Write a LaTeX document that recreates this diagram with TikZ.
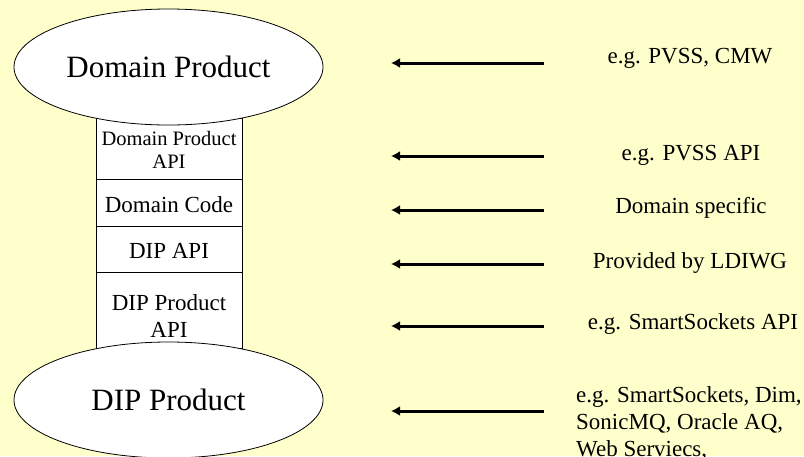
\documentclass[tikz,border=0pt]{standalone}
\usepackage{fontspec}
\setmainfont{Liberation Serif}
\usetikzlibrary{arrows.meta,shapes.geometric}
\definecolor{bgyellow}{HTML}{FFFFCC}
\tikzset{
  prod/.style={ellipse, draw=black, line width=0.8pt, fill=white, inner sep=0pt,
    minimum width=309pt, minimum height=116pt, font=\fontsize{31}{36}\selectfont},
  cell/.style={rectangle, draw=black, line width=0.8pt, fill=white, inner sep=0pt,
    minimum width=146pt},
  celltext/.style={anchor=base, align=center, inner sep=0pt, font=\fontsize{23}{27}\selectfont},
  smalltext/.style={anchor=base, align=center, inner sep=0pt, font=\fontsize{20.5}{23}\selectfont},
  note/.style={anchor=base, align=center, inner sep=0pt, font=\fontsize{23}{27}\selectfont},
  arr/.style={line width=3pt, -{Latex[length=9pt,width=10pt]}}
}
\begin{document}
\begin{tikzpicture}[x=1pt,y=-1pt]
\fill[bgyellow] (0,0) rectangle (804,456);
\useasboundingbox (0,0) rectangle (804,456);
% stack of layers
\node[cell, minimum height=61pt] (c1) at (169,148.5) {};
\node[cell, minimum height=47pt] (c2) at (169,202.5) {};
\node[cell, minimum height=46pt] (c3) at (169,249) {};
\node[cell, minimum height=76pt] (c4) at (169,310) {};
\node[smalltext] (t1) at (169,168) {Domain Product\\API};
\node[celltext] (t2) at (169,212) {Domain Code};
\node[celltext] (t3) at (169,258) {DIP API};
\node[celltext] (t4) at (169,337) {DIP Product\\API};
% products
\node[prod] (dp) at (168.5,67) {Domain Product};
\node[prod] (dip) at (168.5,400) {DIP Product};
% arrows
\coordinate (s1) at (544,63);  \coordinate (e1) at (391,63);
\coordinate (s2) at (544,156); \coordinate (e2) at (391,156);
\coordinate (s3) at (544,210); \coordinate (e3) at (391,210);
\coordinate (s4) at (544,264); \coordinate (e4) at (391,264);
\coordinate (s5) at (544,326); \coordinate (e5) at (391,326);
\coordinate (s6) at (544,411); \coordinate (e6) at (391,411);
\draw[arr] (s1) -- (e1);
\draw[arr] (s2) -- (e2);
\draw[arr] (s3) -- (e3);
\draw[arr] (s4) -- (e4);
\draw[arr] (s5) -- (e5);
\draw[arr] (s6) -- (e6);
% notes
\node[note] (n1) at (690,63) {e.g. PVSS, CMW};
\node[note] (n2) at (691,160) {e.g. PVSS API};
\node[note] (n3) at (691,213) {Domain specific};
\node[note] (n4) at (690,268) {Provided by LDIWG};
\node[note] (n5) at (693,329) {e.g. SmartSockets API};
\node[note, anchor=base west, align=left] (n6) at (576,456) {e.g. SmartSockets, Dim,\\SonicMQ, Oracle AQ,\\Web Serviecs,};
\end{tikzpicture}
\end{document}
